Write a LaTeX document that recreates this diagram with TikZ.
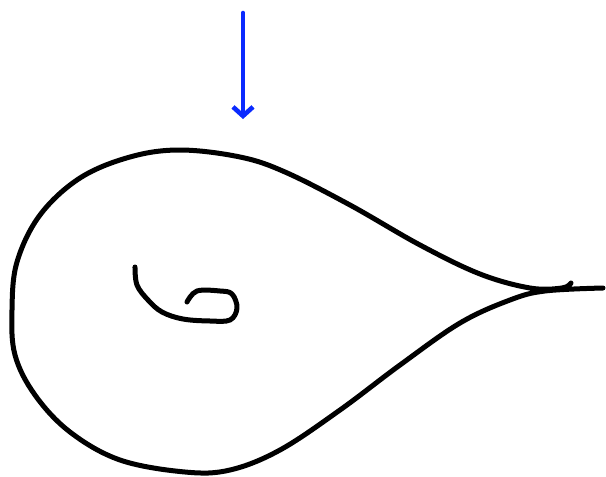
\documentclass[tikz,border=0pt]{standalone}
\usetikzlibrary{arrows.meta}
\definecolor{penblue}{HTML}{0A2AFF}
\tikzset{
  ink/.style={line width=5pt, line cap=round, line join=round, black},
  bluearrow/.style={line width=4.6pt, line cap=round, penblue, -{Straight Barb[length=9pt,width=20pt,line width=4.6pt]}}
}
\begin{document}
\begin{tikzpicture}[x=1pt,y=-1pt]
\useasboundingbox (0,0) rectangle (606,477);
\coordinate (atop) at (243,13);
\coordinate (abot) at (243,119);
\draw[bluearrow] (atop) -- (abot);
% teardrop outline
\draw[ink] plot[smooth, tension=0.6] coordinates {
 (571,283) (562,288) (530,288) (480,274) (420,245) (350,205) (285,172) (240,157)
 (180,150) (130,157) (80,178) (40,215) (17,262) (12,310) (15,355) (35,395)
 (70,432) (120,460) (185,472) (230,470) (280,450) (340,410) (400,365)
 (460,323) (510,300) (545,291) (603,288)};
% spiral
\draw[ink] plot[smooth, tension=0.6] coordinates {
 (135,267) (137,285) (148,300) (162,312) (183,319) (210,321) (230,320)
 (237,308) (232,294) (220,291) (197,291) (187,302)};
\end{tikzpicture}
\end{document}
